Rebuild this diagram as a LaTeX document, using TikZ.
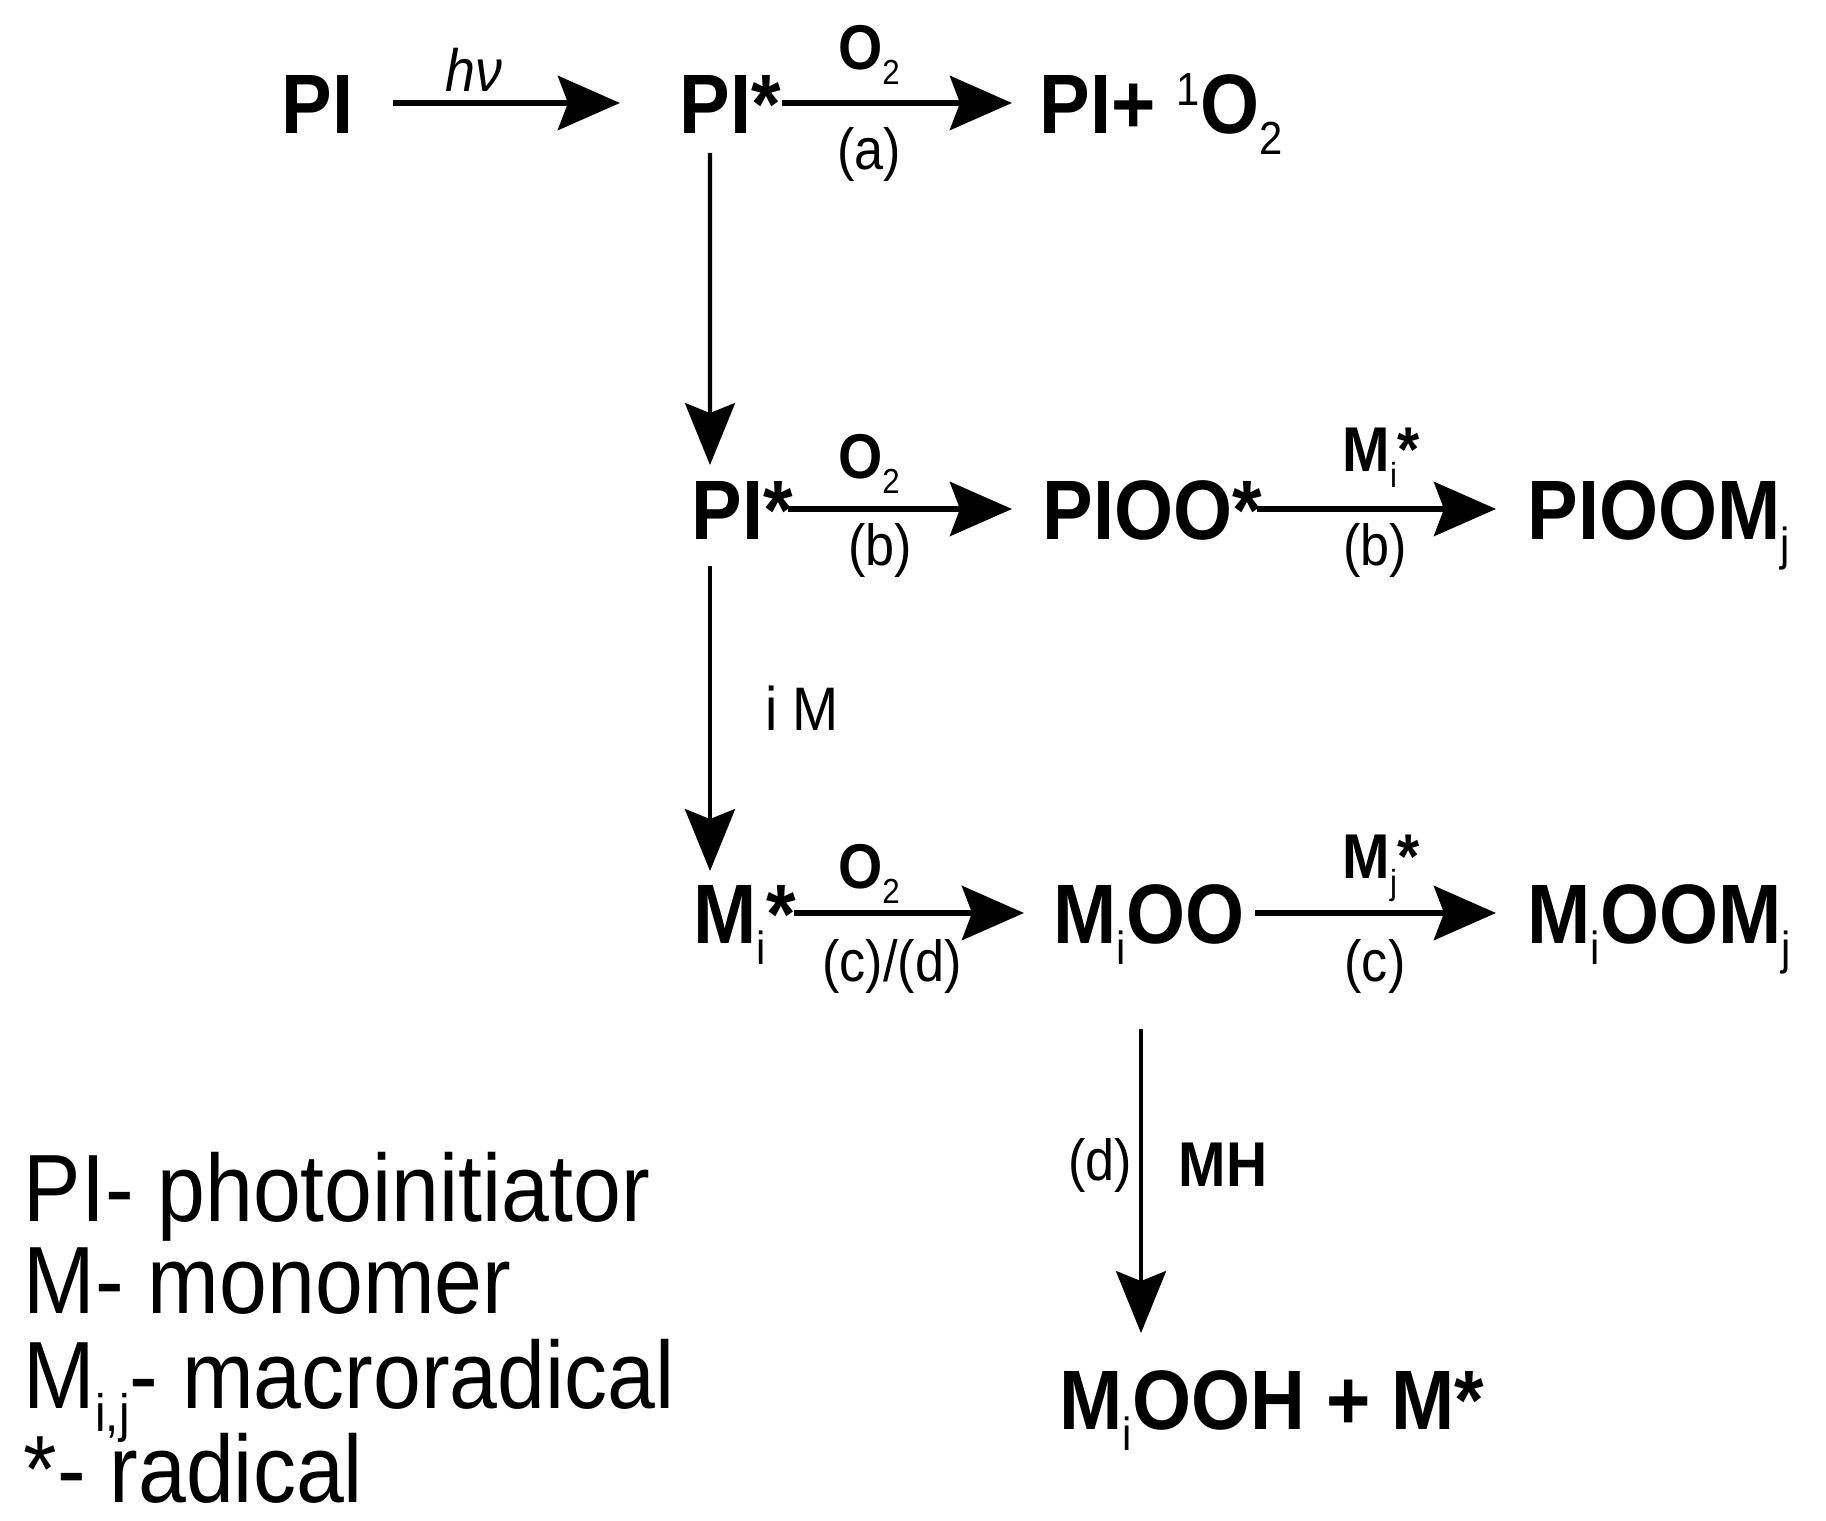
\documentclass[tikz,border=0pt]{standalone}
\usepackage{fontspec}
\setmainfont{Liberation Sans}[FakeStretch=0.9]
\usetikzlibrary{arrows.meta, positioning}

\newcommand{\lo}[1]{\raisebox{-0.25em}{\scalebox{0.55}{\mdseries #1}}}
\newcommand{\hi}[1]{\raisebox{0.33em}{\scalebox{0.55}{\mdseries #1}}}

\begin{document}
\begin{tikzpicture}[
    x=0.1mm, y=-0.1mm,
    every node/.style={inner sep=0pt},
    species/.style={anchor=west, font=\fontsize{24}{28}\selectfont\bfseries, text height=17.2pt, text depth=0pt},
    reagent/.style={font=\fontsize{18}{20}\selectfont\bfseries},
    cond/.style={font=\fontsize{16.5}{19}\selectfont},
    legend/.style={anchor=base west, font=\fontsize{27.2}{32}\selectfont, text height=19pt, text depth=4pt},
    arrow/.style={-{Stealth[length=6.2mm, width=5.4mm, inset=1mm]}, line width=1.7pt},
    drop/.style={-{Stealth[length=6.2mm, width=5mm, inset=1mm]}, line width=1.2pt}
]
\useasboundingbox (0,0) rectangle (1826,1521);

% --- Primera fila
\node[species] (pi) at (281,103) {PI};
\node[species] (pistarA) at (679,103) {PI*};
\node[species] (piso) at (1039,103) {PI+ \hi{1}O\lo{2}};

% --- Segunda fila
\node[species] (pistarB) at (691,509) {PI*};
\node[species] (pioo) at (1042,509) {PIOO*};
\node[species] (pioom) at (1527,509) {PIOOM\lo{j}};

% --- Tercera fila
\node[species] (mistar) at (693,913) {M\lo{i}*};
\node[species] (mioo) at (1053,913) {M\lo{i}OO};
\node[species] (mioom) at (1527,913) {M\lo{i}OOM\lo{j}};

% --- Producto final
\node[species] (mooh) at (1059,1399) {M\lo{i}OOH + M*};

% --- Etiquetas de las flechas
\node[cond, font=\fontsize{17}{19}\selectfont\itshape] (hv) at (474,70) {hν};
\node[reagent] (oxA) at (869,55) {O\lo{2}};
\node[cond] (stepa) at (869,155) {(a)};
\node[reagent] (oxB) at (869,464) {O\lo{2}};
\node[cond] (stepbA) at (880,550) {(b)};
\node[reagent] (mi) at (1381,458) {M\lo{i}*};
\node[cond] (stepbB) at (1375,550) {(b)};
\node[reagent] (oxC) at (869,874) {O\lo{2}};
\node[cond] (stepcd) at (892,966) {(c)/(d)};
\node[reagent] (mj) at (1381,868) {M\lo{j}*};
\node[cond] (stepc) at (1375,966) {(c)};
\node[cond, font=\fontsize{17.5}{19}\selectfont] (im) at (802,708) {i M};
\node[cond] (stepd) at (1100,1165) {(d)};
\node[reagent] (mh) at (1223,1165) {MH};

% --- Flechas horizontales
\draw[arrow, shorten <=3.9mm, shorten >=5.9mm] (pi.east) -- (pistarA.west);
\draw[arrow, shorten <=0mm, shorten >=2.7mm] (pistarA.east) -- (piso.west);
\draw[arrow, shorten <=-0.6mm, shorten >=3mm] (pistarB.east) -- (pioo.west);
\draw[arrow, shorten <=-0.6mm, shorten >=3.1mm] (pioo.east) -- (pioom.west);
\draw[arrow, shorten <=-0.2mm, shorten >=2.9mm] (mistar.east) -- (mioo.west);
\draw[arrow, shorten <=1mm, shorten >=3.1mm] (mioo.east) -- (mioom.west);

% --- Flechas verticales
\draw[drop, shorten <=1.9mm, shorten >=1.3mm] ([xshift=3.1mm]pistarA.south west) -- ([xshift=1.9mm]pistarB.north west);
\draw[drop, shorten <=2.6mm, shorten >=1.1mm] ([xshift=1.9mm]pistarB.south west) -- ([xshift=1.7mm]mistar.north west);
\draw[drop, shorten <=8.5mm, shorten >=3.5mm] ([xshift=8.8mm]mioo.south west) -- ([xshift=8.2mm]mooh.north west);

% --- Leyenda
\node[legend] (leypi) at (23,1221) {PI- photoinitiator};
\node[legend] (leym) at (23,1313) {M- monomer};
\node[legend] (leymij) at (23,1408) {M\lo{i,j}- macroradical};
\node[legend] (leyrad) at (23,1502) {*- radical};

\end{tikzpicture}
\end{document}
